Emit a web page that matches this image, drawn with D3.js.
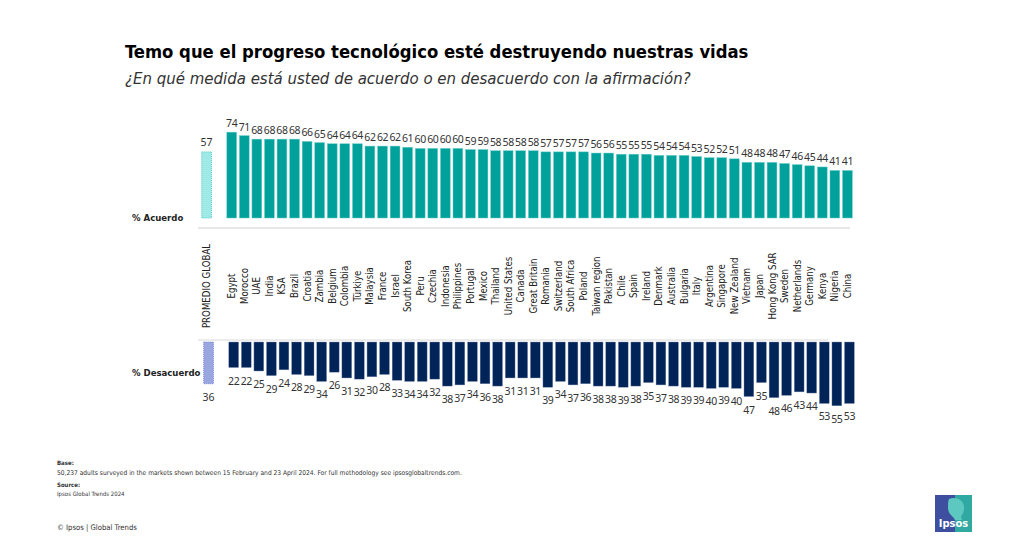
<!DOCTYPE html>
<html><head><meta charset="utf-8">
<script src="https://cdn.jsdelivr.net/npm/d3@7/dist/d3.min.js"></script>
<style>body{margin:0;background:#fff}svg{display:block}</style>
</head><body><svg id="c" width="1024" height="550"></svg>
<script>
const titleText = "Temo que el progreso tecnológico esté destruyendo nuestras vidas";
const subtitleText = "¿En qué medida está usted de acuerdo o en desacuerdo con la afirmación?";
const globalLabel = "PROMEDIO GLOBAL";
const globalAgree = 57;
const globalDisagree = 36;
const countries = ["Egypt","Morocco","UAE","India","KSA","Brazil","Croatia","Zambia","Belgium","Colombia","Türkiye","Malaysia","France","Israel","South Korea","Peru","Czechia","Indonesia","Philippines","Portugal","Mexico","Thailand","United States","Canada","Great Britain","Romania","Switzerland","South Africa","Poland","Taiwan region","Pakistan","Chile","Spain","Ireland","Denmark","Australia","Bulgaria","Italy","Argentina","Singapore","New Zealand","Vietnam","Japan","Hong Kong SAR","Sweden","Netherlands","Germany","Kenya","Nigeria","China"];
const agree = [74,71,68,68,68,68,66,65,64,64,64,62,62,62,61,60,60,60,60,59,59,58,58,58,58,57,57,57,57,56,56,55,55,55,54,54,54,53,52,52,51,48,48,48,47,46,45,44,41,41];
const disagree = [22,22,25,29,24,28,29,34,26,31,32,30,28,33,34,34,32,38,37,34,36,38,31,31,31,39,34,37,36,38,38,39,38,35,37,38,39,39,40,39,40,47,35,48,46,43,44,53,55,53];
const seriesLabels = ["% Acuerdo","% Desacuerdo"];

const svg = d3.select("#c");
const GAP = "__gap__";
const domain = [globalLabel, GAP, ...countries];
const x = d3.scaleBand().domain(domain).range([200.3, 853.7]).paddingInner(0.22).paddingOuter(0.11);
const yTop = d3.scaleLinear().domain([0,100]).range([218, 102]);
const yBot = d3.scaleLinear().domain([0,100]).range([342, 458]);
const bw = x.bandwidth();
const bx = 2; // bottom bars offset

function fit(sel, w){
  const n = sel.node(); let fs = parseFloat(sel.attr("font-size"));
  for(let i=0;i<3;i++){ const l = n.getComputedTextLength(); fs = fs*w/l; sel.attr("font-size", fs); }
}

// title
fit(svg.append("text").attr("x",125).attr("y",58).attr("font-family","DejaVu Sans Condensed")
  .attr("font-weight","bold").attr("font-size",19).attr("fill","#000").text(titleText), 623);
fit(svg.append("text").attr("x",125).attr("y",84).attr("font-family","DejaVu Sans Condensed")
  .attr("font-style","italic").attr("font-size",15).attr("fill","#333").text(subtitleText), 565);

// separator lines
svg.append("line").attr("x1",198).attr("x2",850).attr("y1",228).attr("y2",228).attr("stroke","#cfcfcf").attr("stroke-width",1);
svg.append("line").attr("x1",198).attr("x2",828).attr("y1",340).attr("y2",340).attr("stroke","#d9d9d9").attr("stroke-width",1);

// top bars
const topData = countries.map((c,i)=>({c, v:agree[i]}));
const botData = countries.map((c,i)=>({c, v:disagree[i]}));

svg.append("rect").attr("x",x(globalLabel)).attr("y",yTop(globalAgree)).attr("width",bw).attr("height",yTop(0)-yTop(globalAgree))
  .attr("fill","#9fe9e6").attr("stroke","#3fc4c0").attr("stroke-width",0.8).attr("stroke-dasharray","1,1");
svg.append("g").selectAll("rect").data(topData).join("rect")
  .attr("x",d=>x(d.c)).attr("y",d=>yTop(d.v)).attr("width",bw).attr("height",d=>yTop(0)-yTop(d.v))
  .attr("fill","#00a09b").attr("stroke","#6ccfcb").attr("stroke-width",0.5);

const numFont = "Noto Sans";
svg.append("text").attr("x",x(globalLabel)+bw/2).attr("y",yTop(globalAgree)-6).attr("text-anchor","middle")
  .attr("font-family",numFont).attr("font-size",10.5).attr("fill","#333").text(globalAgree);
svg.append("g").selectAll("text").data(topData).join("text")
  .attr("x",d=>x(d.c)+bw/2).attr("y",d=>yTop(d.v)-5).attr("text-anchor","middle")
  .attr("font-family",numFont).attr("font-size",10.5).attr("letter-spacing",-0.4).attr("fill","#333").text(d=>d.v);

// bottom bars
svg.append("rect").attr("x",x(globalLabel)+bx).attr("y",yBot(0)).attr("width",bw).attr("height",yBot(globalDisagree)-yBot(0))
  .attr("fill","#9aa6e0").attr("stroke","#6f7fcf").attr("stroke-width",0.8).attr("stroke-dasharray","1,1");
svg.append("g").selectAll("rect").data(botData).join("rect")
  .attr("x",d=>x(d.c)+bx).attr("y",yBot(0)).attr("width",bw).attr("height",d=>yBot(d.v)-yBot(0))
  .attr("fill","#002358").attr("stroke","#8090b0").attr("stroke-width",0.4);
svg.append("text").attr("x",x(globalLabel)+bx+bw/2).attr("y",yBot(globalDisagree)+17).attr("text-anchor","middle")
  .attr("font-family",numFont).attr("font-size",10.5).attr("fill","#333").text(globalDisagree);
svg.append("g").selectAll("text").data(botData).join("text")
  .attr("x",d=>x(d.c)+bx+bw/2).attr("y",d=>yBot(d.v)+17).attr("text-anchor","middle")
  .attr("font-family",numFont).attr("font-size",10.5).attr("letter-spacing",-0.4).attr("fill","#333").text(d=>d.v);

// category labels
svg.append("g").selectAll("text").data([globalLabel, ...countries]).join("text")
  .attr("transform",d=>`translate(${x(d)+bw/2+ (d===globalLabel?0:0)},286) rotate(-90)`)
  .attr("text-anchor","middle").attr("dominant-baseline","central")
  .attr("font-family","DejaVu Sans Condensed").attr("font-size",9.6).attr("fill","#222").text(d=>d);

// series labels
svg.append("text").attr("x",132).attr("y",221).attr("font-family","DejaVu Sans Condensed").attr("font-weight","bold")
  .attr("font-size",9.5).attr("fill","#222").text(seriesLabels[0]);
svg.append("text").attr("x",132).attr("y",376).attr("font-family","DejaVu Sans Condensed").attr("font-weight","bold")
  .attr("font-size",9.5).attr("fill","#222").text(seriesLabels[1]);

// footer
const ff = "DejaVu Sans Condensed";
svg.append("text").attr("x",57).attr("y",465).attr("font-family",ff).attr("font-weight","bold").attr("font-size",6).attr("fill","#333").text("Base:");
fit(svg.append("text").attr("x",57).attr("y",475).attr("font-family",ff).attr("font-size",6).attr("fill","#333")
  .text("50,237 adults surveyed in the markets shown between 15 February and 23 April 2024. For full methodology see ipsosglobaltrends.com."), 405);
svg.append("text").attr("x",57).attr("y",487).attr("font-family",ff).attr("font-weight","bold").attr("font-size",6).attr("fill","#333").text("Source:");
svg.append("text").attr("x",57).attr("y",496).attr("font-family",ff).attr("font-size",6).attr("fill","#333").text("Ipsos Global Trends 2024");
fit(svg.append("text").attr("x",57).attr("y",530).attr("font-family",ff).attr("font-size",8.5).attr("fill","#333").text("© Ipsos | Global Trends"), 80);

// logo
const lg = svg.append("g").attr("transform","translate(935,495)");
lg.append("rect").attr("width",37).attr("height",37).attr("fill","#2fa9a2");
lg.append("rect").attr("width",20).attr("height",37).attr("fill","#3e4fa0");
lg.append("path").attr("d","M14,4 C22,1 30,6 29,14 C29,18 27,19 26,22 L27,25 L20,25 C18,21 13,19 13,13 C13,9 13,6 14,4 Z").attr("fill","#5cc8c0");
lg.append("text").attr("x",18.5).attr("y",32).attr("text-anchor","middle").attr("font-family","DejaVu Sans").attr("font-weight","bold")
  .attr("font-size",10).attr("fill","#fff").text("Ipsos");
</script></body></html>
